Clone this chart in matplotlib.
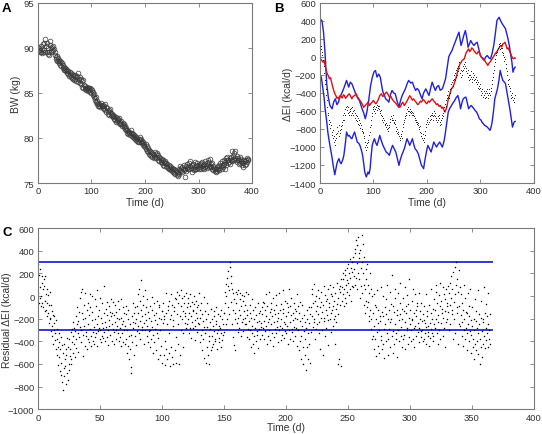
import numpy as np
import matplotlib
matplotlib.use("Agg")
import matplotlib.pyplot as plt

plt.rcParams['font.family'] = ['Liberation Sans', 'DejaVu Sans']

# ---------------- Panel A: body weight (kg), one value per day from day 0 ----------------
bw = [
90.1, 89.7, 90.0, 89.5, 89.8, 89.6, 90.2, 89.4, 89.9, 89.6,
90.4, 89.8, 90.6, 89.5, 91.0, 90.2, 89.6, 90.5, 89.3, 90.0,
89.5, 89.2, 90.3, 90.8, 90.0, 89.6, 90.1, 89.7, 90.2, 89.8,
89.9, 89.6, 89.2, 89.0, 88.8, 89.1, 88.6, 88.9, 88.5, 88.7,
88.3, 88.6, 88.1, 88.4, 88.0, 88.3, 87.8, 88.1, 87.6, 87.9,
87.5, 87.8, 87.4, 87.7, 87.2, 87.6, 87.1, 87.4, 86.9, 87.3,
87.0, 87.2, 86.8, 87.1, 86.7, 87.0, 86.6, 86.9, 86.4, 87.0,
86.5, 86.8, 86.3, 86.9, 86.2, 87.2, 86.6, 86.4, 86.8, 86.1,
86.5, 86.0, 86.3, 85.7, 86.4, 85.6, 85.9, 85.4, 85.8, 85.5,
85.3, 85.7, 85.4, 85.6, 85.2, 85.5, 85.3, 85.6, 85.1, 85.4,
85.0, 85.3, 84.8, 85.1, 84.6, 84.9, 84.4, 84.2, 84.5, 84.0,
83.8, 84.1, 83.6, 83.9, 83.5, 83.8, 83.4, 83.7, 83.9, 83.5,
83.6, 83.3, 83.7, 83.2, 83.5, 83.8, 83.1, 83.4, 82.9, 83.3,
83.0, 82.7, 83.1, 82.6, 82.9, 83.2, 82.5, 82.8, 82.4, 82.7,
82.3, 82.6, 82.1, 82.4, 82.0, 82.3, 81.8, 82.2, 81.9, 82.1,
82.0, 81.7, 82.2, 81.8, 81.5, 81.9, 81.6, 81.3, 81.7, 81.4,
81.2, 81.5, 81.0, 81.3, 80.9, 81.1, 80.6, 80.9, 80.4, 80.8,
80.5, 80.7, 80.3, 80.6, 80.9, 80.2, 80.5, 80.1, 80.4, 80.0,
80.3, 79.9, 80.2, 79.8, 80.1, 79.7, 80.0, 79.6, 79.9, 79.5,
79.8, 80.1, 79.6, 79.9, 79.4, 79.7, 79.2, 79.5, 79.1, 79.3,
79.0, 79.3, 78.8, 79.1, 78.6, 78.9, 78.4, 78.7, 78.2, 78.5,
78.1, 78.4, 78.0, 78.3, 77.9, 78.2, 77.8, 78.1, 78.4, 77.9,
78.2, 77.8, 78.3, 77.9, 78.1, 77.6, 77.9, 77.4, 77.8, 77.5,
77.3, 77.7, 77.2, 77.5, 77.0, 77.3, 76.9, 77.2, 77.4, 76.9,
77.2, 76.8, 77.1, 76.7, 77.0, 76.6, 76.9, 76.5, 76.8, 76.4,
76.7, 76.3, 76.6, 76.2, 76.5, 76.1, 76.4, 76.0, 76.3, 75.9,
76.2, 75.8, 76.1, 76.6, 76.0, 76.4, 76.9, 76.3, 76.7, 76.2,
76.8, 76.5, 77.0, 76.4, 75.7, 76.6, 76.9, 76.3, 76.7, 77.1,
76.5, 76.8, 77.2, 76.6, 76.9, 77.4, 76.7, 76.2, 77.0, 76.6,
77.1, 76.4, 76.8, 77.3, 76.6, 77.0, 76.5, 76.9, 77.2, 76.7,
77.0, 76.6, 77.1, 76.8, 77.2, 76.5, 76.9, 77.3, 76.7, 77.0,
76.6, 77.1, 76.8, 77.4, 76.9, 77.2, 76.7, 77.6, 77.0, 76.8,
77.3, 76.9, 77.7, 77.1, 76.8, 77.2, 76.6, 76.9, 76.4, 76.7,
76.3, 76.6, 76.2, 76.5, 76.8, 76.3, 76.6, 76.9, 76.4, 77.0,
76.7, 77.2, 76.9, 76.5, 77.4, 77.0, 76.8, 77.6, 77.1, 76.6,
77.3, 77.8, 77.0, 77.5, 77.9, 77.2, 77.6, 77.3, 77.8, 77.1,
77.6, 77.9, 77.4, 78.5, 77.7, 78.0, 77.5, 78.3, 78.5, 77.8,
77.6, 78.0, 77.3, 77.8, 77.5, 77.1, 77.6, 77.9, 77.2, 77.7,
77.4, 77.0, 77.3, 76.8, 77.2, 77.5, 77.0, 77.4, 77.1, 77.6,
77.3, 77.8, 77.5, 77.7,
]
bw_days = list(range(len(bw)))

# ---------------- Panel B ----------------
# black dots: estimated dEI (kcal/d), one per day
ei_dots = [
130, 110, 90, 120, 60, 20, -30, -100, -180, -260,
-300, -360, -420, -480, -560, -620, -650, -700, -740, -720,
-790, -760, -830, -870, -810, -900, -950, -880, -980, -920,
-860, -900, -840, -780, -820, -880, -760, -810, -850, -770,
-800, -720, -760, -700, -650, -700, -620, -580, -640, -560,
-540, -590, -620, -560, -610, -650, -580, -600, -640, -570,
-620, -560, -600, -650, -590, -620, -680, -640, -700, -660,
-710, -680, -740, -700, -760, -730, -790, -760, -820, -800,
-850, -830, -900, -880, -950, -1000, -980, -1030, -960, -1000,
-920, -940, -870, -830, -780, -760, -700, -660, -620, -580,
-560, -600, -540, -580, -620, -560, -530, -590, -570, -540,
-580, -550, -600, -620, -590, -640, -660, -700, -680, -720,
-700, -740, -760, -730, -780, -760, -800, -790, -820, -780,
-760, -720, -690, -660, -700, -680, -650, -700, -730, -720,
-750, -700, -780, -820, -800, -840, -860, -830, -880, -900,
-920, -880, -860, -900, -820, -780, -740, -700, -720, -660,
-680, -640, -620, -580, -600, -560, -600, -640, -610, -580,
-620, -600, -640, -610, -650, -620, -660, -700, -680, -720,
-700, -740, -720, -760, -730, -780, -800, -770, -830, -850,
-880, -900, -860, -920, -950, -900, -870, -820, -780, -740,
-720, -700, -740, -680, -720, -700, -660, -640, -690, -650,
-620, -660, -700, -640, -600, -620, -660, -700, -680, -720,
-700, -660, -640, -680, -720, -760, -740, -700, -680, -640,
-660, -620, -600, -560, -520, -480, -540, -460, -420, -440,
-380, -420, -460, -400, -360, -300, -340, -280, -320, -260,
-240, -200, -260, -180, -220, -150, -200, -120, -160, -100,
-60, -120, -180, -140, -220, -200, -160, -100, -140, -80,
-120, -60, -100, -160, -120, -180, -220, -150, -200, -260,
-240, -200, -160, -220, -280, -240, -180, -220, -260, -200,
-240, -280, -220, -260, -300, -340, -280, -320, -360, -300,
-340, -380, -420, -360, -400, -440, -380, -420, -460, -400,
-380, -440, -400, -360, -420, -460, -400, -360, -420, -380,
-340, -300, -260, -220, -180, -140, -100, -60, -20, 20,
40, 80, 60, 100, 140, 120, 150, 90, 130, 100,
60, 100, 40, 20, 0, -40, -20, -80, -120, -160,
-200, -260, -300, -250, -320, -380, -340, -420, -460, -400,
-440, -480, -500, -460, -420,
]
ei_dot_days = list(range(len(ei_dots)))

# upper blue band
up_days = [0, 4, 7, 10, 13, 16, 19, 23, 26, 29, 32, 35, 38, 42, 46, 50, 54, 57, 60, 64,
           67, 70, 73, 76, 79, 82, 85, 88, 91, 95, 98, 101, 104, 107, 110, 113, 116, 118,
           121, 123, 126, 129, 132, 135, 138, 141, 144, 148, 151, 154, 157, 160, 163, 166,
           170, 173, 176, 179, 182, 185, 188, 191, 194, 198, 201, 204, 207, 210, 213, 216,
           219, 222, 225, 229, 232, 235, 238, 241, 244, 247, 250, 254, 257, 260, 262, 264,
           267, 269, 272, 275, 277, 280, 282, 285, 288, 291, 294, 297, 300, 303, 307, 310,
           313, 316, 319, 322, 325, 328, 331, 335, 338, 341, 344, 347, 351, 354, 356, 359,
           361, 363, 365]
up_vals = [423, 404, 275, 30, -300, -450, -540, -576, -500, -465, -530, -502, -440, -391,
           -330, -261, -335, -280, -298, -360, -409, -440, -465, -520, -576, -620, -686,
           -612, -500, -317, -230, -169, -150, -224, -190, -224, -330, -391, -430, -465,
           -480, -502, -420, -372, -400, -409, -480, -557, -480, -428, -390, -354, -300,
           -261, -290, -280, -330, -372, -350, -372, -420, -465, -400, -354, -390, -428,
           -350, -280, -330, -372, -330, -317, -370, -354, -300, -243, -120, 2, 40, 71,
           120, 182, 230, 275, 200, 127, 190, 238, 293, 200, 108, 150, 182, 150, 127, 150,
           164, 90, 16, -10, -39, 0, 16, -10, -21, 40, 127, 260, 404, 441, 400, 367, 340,
           312, 219, 130, 53, -60, -169, -130, -113]

# lower blue band
lo_days = [0, 3, 5, 8, 10, 13, 15, 18, 20, 23, 25, 28, 30, 32, 34, 36, 38, 40, 43, 45,
           48, 50, 53, 55, 58, 60, 63, 65, 68, 70, 73, 75, 78, 80, 82, 84, 87, 90, 92, 94,
           96, 98, 100, 102, 105, 107, 110, 112, 115, 118, 121, 124, 127, 130, 133, 136,
           139, 142, 145, 148, 150, 153, 156, 158, 161, 163, 166, 168, 171, 173, 176, 178,
           181, 184, 187, 190, 192, 194, 196, 198, 200, 202, 205, 208, 211, 213, 216, 218,
           221, 224, 227, 229, 232, 234, 237, 240, 243, 246, 249, 252, 255, 258, 261, 263,
           266, 268, 271, 273, 276, 278, 281, 283, 286, 288, 291, 293, 296, 298, 301, 303,
           306, 308, 311, 313, 316, 318, 320, 322, 325, 327, 330, 332, 335, 337, 340, 342,
           345, 347, 350, 352, 354, 356, 358, 360, 362, 363, 365]
lo_vals = [-187, -230, -317, -450, -576, -720, -834, -950, -1019, -1120, -1204, -1308,
           -1250, -1186, -1150, -1130, -1170, -1186, -1140, -1093, -950, -834, -880, -871,
           -900, -908, -860, -834, -900, -945, -960, -982, -1040, -1093, -1180, -1278,
           -1333, -1278, -1300, -1241, -1100, -982, -940, -908, -960, -982, -920, -871,
           -930, -982, -1020, -1056, -1070, -1093, -1030, -982, -1020, -1056, -1130,
           -1204, -1150, -1093, -1050, -1019, -950, -908, -950, -982, -940, -908, -980,
           -1019, -1040, -1075, -1140, -1204, -1220, -1241, -1160, -1093, -1030, -982,
           -1020, -1056, -990, -945, -980, -1001, -970, -945, -980, -1001, -940, -871,
           -740, -612, -570, -539, -510, -483, -450, -428, -500, -576, -500, -465, -450,
           -446, -520, -576, -550, -539, -560, -576, -600, -612, -650, -686, -700, -723,
           -745, -760, -770, -779, -800, -816, -780, -723, -580, -465, -400, -354, -250,
           -150, -220, -261, -280, -298, -400, -465, -540, -612, -700, -779, -740, -723,
           -716]

# red line
red_days = [0, 3, 6, 8, 10, 12, 14, 16, 18, 20, 22, 24, 26, 28, 30, 32, 34, 36, 38, 40,
            42, 44, 46, 48, 50, 52, 55, 58, 60, 62, 65, 68, 70, 72, 75, 78, 80, 82, 85, 88,
            90, 93, 95, 98, 100, 103, 105, 108, 110, 112, 115, 118, 120, 123, 125, 128, 130,
            133, 135, 138, 140, 143, 145, 148, 150, 153, 155, 158, 160, 163, 165, 168, 170,
            173, 175, 178, 180, 183, 185, 188, 190, 193, 195, 198, 200, 203, 205, 208, 210,
            213, 215, 218, 220, 223, 225, 228, 230, 232, 234, 236, 238, 240, 242, 244, 246,
            248, 250, 252, 254, 256, 258, 260, 262, 264, 266, 268, 270, 272, 274, 276, 278,
            280, 282, 284, 286, 288, 290, 292, 294, 296, 298, 300, 302, 304, 306, 308, 310,
            312, 314, 316, 318, 320, 322, 324, 326, 328, 330, 332, 334, 336, 338, 340, 342,
            344, 346, 348, 350, 352, 354, 356, 358, 360, 362, 364, 365]
red_vals = [-14, -32, -58, -40, -95, -150, -187, -210, -243, -230, -280, -330, -372, -410,
            -428, -460, -446, -470, -428, -440, -457, -420, -428, -460, -446, -430, -409,
            -440, -465, -440, -428, -410, -446, -470, -483, -510, -531, -560, -539, -520,
            -502, -540, -520, -500, -483, -510, -520, -490, -465, -430, -409, -440, -428,
            -400, -391, -420, -446, -440, -465, -490, -502, -520, -539, -560, -557, -520,
            -502, -540, -520, -490, -465, -430, -446, -480, -465, -490, -502, -530, -520,
            -490, -502, -470, -483, -510, -520, -490, -502, -480, -465, -490, -502, -530,
            -520, -550, -539, -570, -557, -590, -612, -580, -539, -470, -428, -390, -354,
            -340, -317, -280, -243, -200, -150, -110, -76, -60, -39, -30, -21, 20, 53, 70,
            90, 60, 71, 100, 90, 70, 53, 40, 34, 60, 53, 20, -3, -10, -21, -40, -58, -80,
            -95, -70, -58, -40, -21, 0, 16, 40, 53, 70, 90, 110, 127, 110, 145, 150, 164,
            130, 90, 100, 71, 40, 16, -10, -21, -10, -14]

# ---------------- Panel C: residual dEI (kcal/d), three values per day ----------------
resid = [
280, 30, -60, 190, -20, 80, 240, 0, -90, 120, -60, 180, 60, -100, 150,
90, -40, -130, 180, -120, 20, -60, 60, -180, -150, 10, -240, -80, -200, 40,
-190, -310, -80, -260, -130, -350, -170, -420, -240, -300, -180, -390, -330, -470, -210,
-380, -520, -290, -450, -610, -330, -540, -410, -660, -470, -700, -360, -590, -760, -430,
-830, -500, -640, -710, -420, -560, -620, -780, -470, -520, -680, -370, -740, -450, -600,
-650, -380, -530, -470, -600, -320, -560, -410, -290, -350, -500, -230, -420, -280, -540,
-310, -460, -180, -380, -100, -250, -220, -490, -330, -140, -360, -20, -270, -410, 40,
-300, -150, 60, -530, -200, -340, -80, -260, -440, -190, 30, -350, -320, -120, -470,
-250, -380, -60, -410, -170, 20, -290, -100, -440, -350, -210, 0, -140, -320, -400,
-270, -420, -30, -200, -360, -90, -330, 50, -250, -440, -180, -310, -120, -280, -380,
-300, -20, -410, -190, -350, -240, -60, -280, -370, 90, -150, -320, -230, -400, -110,
-270, -50, -360, -170, -300, -430, -210, -90, -260, -340, -140, -30, -180, -400, -250,
-150, -290, -50, -320, -170, -420, -230, -80, -300, -140, -380, -190, -260, -40, -330,
-400, -200, -110, -280, -360, -30, -190, -440, -250, -330, -100, -410, -220, -300, -150,
-260, -420, -90, -380, -160, -500, -300, -440, -200, -120, -350, -560, -470, -250, -680,
-630, -340, -180, -410, -230, -60, -280, -520, -150, -350, -100, -240, -200, -430, -310,
-90, -260, 20, -150, -330, 60, -220, -40, -380, 140, -120, -270, -180, -300, 0,
-80, -240, -420, 50, -160, -300, -210, -100, -350, -260, -30, -410, -140, -310, -190,
-300, -90, -450, -220, -380, -10, -120, -270, -500, -340, -170, -60, -410, -210, -290,
-150, -480, -330, -250, -40, -560, -370, -190, -100, -80, -300, -520, -200, -440, -130,
-130, -590, -240, -60, -520, -200, -180, -610, -400, 30, -470, -150, -250, -560, -90,
-120, -500, -330, -40, -620, -200, -170, -450, 20, -80, -540, -260, -210, -600, -130,
-100, -480, -20, -30, -360, -590, -160, 40, -420, -60, -250, -600, 10, -180, -520,
-90, -300, 50, -200, -20, -450, -130, -330, 0, -60, -240, -150, -180, 30, -280,
-100, -250, -20, -200, -60, -330, -150, 20, -280, -90, -370, -180, -230, -50, -130,
-120, -280, 0, -70, -210, -390, -260, -150, -40, -190, -320, -100, -80, -240, 30,
-250, -120, -410, -190, -340, -60, -300, -480, -160, -380, -220, -10, -270, -550, -130,
-330, -590, -200, -450, -270, -60, -520, -160, -350, -400, -600, -230, -290, -480, -110,
-350, -200, -450, -260, -420, -130, -310, -180, -380, -400, -250, -100, -220, -330, -470,
-300, -160, -410, -370, -260, -180, -280, -450, -120, -330, -200, -390, -250, -340, -150,
-150, -320, 40, -60, -250, 110, 0, -200, 160, -100, 90, 220, 50, -160, 260,
300, -50, 180, 120, -250, 60, -120, -360, 30, -30, -430, -200, -150, -480, 40,
-60, -240, 20, -190, 50, -320, -120, -280, -30, 30, -170, -350, -90, -230, 10,
-200, -40, -310, -130, 0, -250, -80, -190, 40, -250, -120, -360, -170, 20, -290,
-220, -380, -80, -300, -150, -450, -190, -330, -30, -260, -420, -120, -350, -200, -500,
-280, -100, -400, -170, -340, -230, -310, -60, -460, -220, -290, -150, -130, -380, -270,
-240, -100, -340, -160, -280, -50, -220, -60, -380, -120, -310, 20, -260, -180, -420,
-90, -230, -350, -200, 40, -300, -140, -390, -60, -250, -110, -330, -180, -20, -440,
-230, -120, -360, -160, -290, 10, -80, -330, -220, -270, -150, -410, -190, 30, -300,
-120, -260, -390, -200, -70, -340, -280, -150, 50, -110, -370, -230, -250, -40, -310,
-180, -330, -60, -260, -100, -420, -140, -300, 60, -230, -380, -90, -170, -20, -290,
-320, -150, -400, -210, -60, -270, -110, -350, -190, -280, -130, 20, -200, -440, -90,
-300, -150, -480, -220, -400, -50, -350, -560, -190, -260, -80, -450, -600, -310, -170,
-380, -520, -230, -280, -650, -120, -450, -200, -560, -330, -100, -420, -240, -590, -160,
-100, -320, 20, -180, 60, -270, -60, -230, 110, -200, -40, -380, -130, -290, 0,
-90, -250, 50, -160, -20, -330, -230, -100, -470, -50, -190, 40, -140, -300, -520,
-80, -220, 90, -190, 10, -350, -120, -280, -40, -30, -170, -430, -210, 60, -100,
-60, -200, 100, -150, 20, -320, 0, -120, -260, -90, 80, -200, -40, -180, -420,
30, -110, -230, -70, 120, -600, -20, -160, 60, -560, 90, -80, 40, -620, 150,
80, -40, 200, 150, 20, -90, 60, 230, -20, 190, 100, -60, 250, 40, 140,
120, 280, 10, 200, 60, 330, 160, 250, -40, 300, 90, 210, 80, 350, 180,
240, 420, 100, 380, 160, 500, 290, 450, 60, 520, 200, 340, 150, 380, -20,
410, 250, 90, 540, 300, 30, 200, 460, -80, 350, 100, -150, 60, 240, -40,
150, -100, 280, -50, 100, -220, 30, -180, 200, -120, 60, -290, -200, 0, -380,
-150, -350, 20, -260, -470, -80, -380, -200, -530, -100, -320, 50, -440, -240, -120,
-300, -500, -180, -220, 80, -390, -350, -140, -470, -180, -420, 0, -290, -550, -100,
-250, -30, -400, -160, -330, 100, -380, -200, -520, -120, -290, 40, -450, -230, -70,
-200, 190, -350, -310, -90, -500, -140, -420, 60, -250, -20, -380, -330, -170, -540,
-120, -300, 30, -400, -210, -60, -160, 120, -350, -270, -450, -110, -200, -20, -380,
-340, -130, 80, -230, -470, -90, -150, -300, 10, -280, -70, -420, -190, -360, 150,
-120, -250, -400, -300, -40, -200, -210, -380, 60, -150, -280, -450, -260, 20, -120,
-350, -180, -60, -90, -320, -240, -280, 30, -410, -200, -130, -360, -310, -60, -220,
-300, -160, -400, -210, -380, -90, -330, -240, 20, -270, -420, -130, -180, -350, -260,
-320, -80, -440, -240, -370, -150, -290, 60, -330, -200, -400, -110, -350, -250, -30,
-120, -280, 40, -200, 100, -330, -60, -230, -420, -170, 10, -300, -90, -380, 120,
-240, -40, -150, -110, 80, -350, -190, -280, 20, -30, -130, -450, -230, 60, -90,
-60, -200, 90, -140, 30, -300, 120, -80, -250, -20, 180, -160, 60, -120, -380,
210, -50, -200, 260, 20, -330, 300, 100, -150, 150, -100, -420, 40, 230, -250,
-90, -260, 80, -170, 20, -350, -230, -60, -440, -120, -300, 100, -200, -20, -380,
-280, -140, -480, -150, -330, 30, -250, -90, -400, -180, 60, -310, -340, -210, -500,
-260, -100, -450, -380, -200, -560, -300, -30, -420, -220, -480, -130, -400, -280, 50,
-330, -510, -160, -250, -600, -380, -450, -190, -40, -310, -540, -230, -200, -420, 80,
-350, -150, -460, -280, -390, -70, -180, -330, -450, -250, 30, -380, -300, -160, -420,
]
resid_per_day = 3
band_lines = [300, -300]
band_end_day = 366

# ---------------- figure ----------------
fig = plt.figure(figsize=(5.42, 4.35), dpi=100)
axA = fig.add_axes([0.070, 0.577, 0.395, 0.414])
axB = fig.add_axes([0.590, 0.577, 0.395, 0.414])
axC = fig.add_axes([0.070, 0.057, 0.915, 0.416])

frame_col = '#7a7a7a'
txt_col = '#333333'
tick_fs = 6.8
lab_fs = 7.4

def style(ax):
    for s in ax.spines.values():
        s.set_color(frame_col)
        s.set_linewidth(0.8)
    ax.tick_params(direction='in', length=3, width=0.6, colors=frame_col,
                   labelcolor=txt_col, labelsize=tick_fs, top=True, right=True, pad=2.5)

# Panel A
axA.plot(bw_days, bw, linestyle='none', marker='o', markersize=3.4,
         markerfacecolor='none', markeredgecolor='#3a3a3a', markeredgewidth=0.5)
axA.set_xlim(0, 400)
axA.set_ylim(75, 95)
axA.set_xticks([0, 100, 200, 300, 400])
axA.set_yticks([75, 80, 85, 90, 95])
axA.set_xlabel('Time (d)', fontsize=lab_fs, color=txt_col)
axA.set_ylabel('BW (kg)', fontsize=lab_fs, color=txt_col)
axA.xaxis.set_label_coords(0.5, -0.078)
axA.yaxis.set_label_coords(-0.079, 0.5)
style(axA)

# Panel B
axB.plot(up_days, up_vals, color='#2020e0', lw=1.0)
axB.plot(lo_days, lo_vals, color='#2020e0', lw=1.0)
axB.plot(red_days, red_vals, color='#e01010', lw=1.0)
axB.plot(ei_dot_days, ei_dots, linestyle='none', marker='.', markersize=1.5,
         color='black', markeredgewidth=0)
axB.set_xlim(0, 400)
axB.set_ylim(-1400, 600)
axB.set_xticks([0, 100, 200, 300, 400])
axB.set_yticks(list(range(-1400, 601, 200)))
axB.set_xlabel('Time (d)', fontsize=lab_fs, color=txt_col)
axB.set_ylabel('ΔEI (kcal/d)', fontsize=lab_fs, color=txt_col)
axB.xaxis.set_label_coords(0.5, -0.078)
axB.yaxis.set_label_coords(-0.126, 0.5)
style(axB)

# Panel C
n_days = len(resid) // resid_per_day
resid_days = np.repeat(np.arange(n_days), resid_per_day) + \
    np.tile(np.arange(resid_per_day) / resid_per_day, n_days)
for yv in band_lines:
    axC.plot([0, band_end_day], [yv, yv], color='#3434e2', lw=1.4)
axC.plot(resid_days, resid, linestyle='none', marker='.', markersize=2.1,
         color='black', markeredgewidth=0)
axC.set_xlim(0, 400)
axC.set_ylim(-1000, 600)
axC.set_xticks(list(range(0, 401, 50)))
axC.set_yticks(list(range(-1000, 601, 200)))
axC.set_xlabel('Time (d)', fontsize=lab_fs, color=txt_col)
axC.set_ylabel('Residual ΔEI (kcal/d)', fontsize=lab_fs, color=txt_col)
axC.xaxis.set_label_coords(0.5, -0.072)
axC.yaxis.set_label_coords(-0.052, 0.5)
style(axC)

fig.text(0.004, 0.972, 'A', fontsize=9.5, fontweight='bold', va='baseline')
fig.text(0.505, 0.972, 'B', fontsize=9.5, fontweight='bold', va='baseline')
fig.text(0.004, 0.457, 'C', fontsize=9.5, fontweight='bold', va='baseline')

fig.savefig('out.png', dpi=100)
